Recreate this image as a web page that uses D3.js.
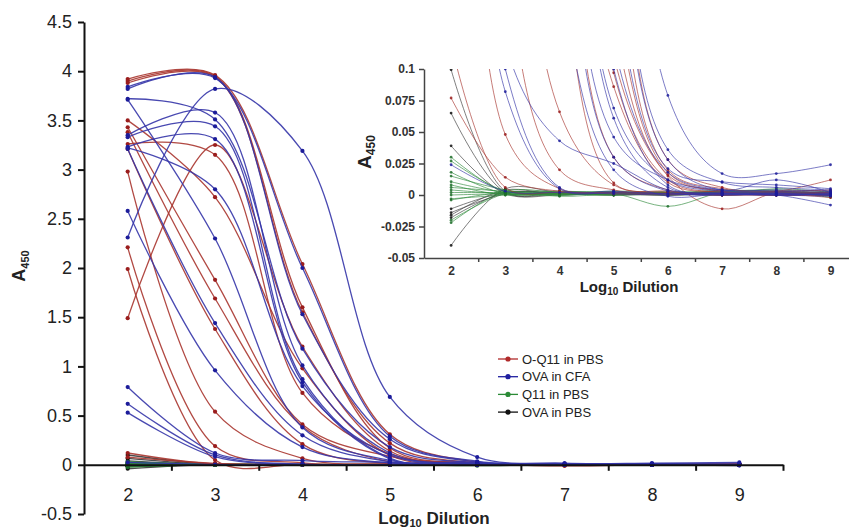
<!DOCTYPE html>
<html><head><meta charset="utf-8">
<script src="https://cdn.jsdelivr.net/npm/d3@7/dist/d3.min.js"></script>
<style>
body{margin:0;background:#fff}
svg{display:block;font-family:Arial,"Liberation Sans",sans-serif}
</style>
</head><body>
<svg id="chart" width="849" height="530"></svg>
<script>
// ---------------- DATA ----------------
const dilutions = [2, 3, 4, 5, 6, 7, 8, 9];
const seriesNames = ["O-Q11 in PBS", "OVA in CFA", "Q11 in PBS", "OVA in PBS"];

// O-Q11 in PBS (one row per animal, A450 at log10 dilution 2..9)
const oq11PBS = [
  [3.92, 3.96, 2.04, 0.31, 0.028, 0.006, 0.003, 0.004],
  [3.90, 3.95, 1.60, 0.17, 0.018, 0.003, 0.002, 0.002],
  [3.88, 3.94, 1.55, 0.22, 0.020, 0.005, 0.003, 0.012],
  [3.50, 2.72, 0.98, 0.097, 0.012, 0.002, 0.001, 0.001],
  [3.43, 1.88, 0.41, 0.086, 0.010, 0.002, 0.000, 0.000],
  [3.38, 1.69, 0.39, 0.030, 0.004, 0.001, 0.001, -0.002],
  [3.26, 3.15, 0.73, 0.11, 0.015, -0.011, 0.002, 0.003],
  [3.21, 1.38, 0.21, 0.0097, 0.003, 0.001, 0.000, 0.001],
  [2.98, 0.54, 0.066, 0.008, 0.002, 0.001, 0.000, 0.000],
  [2.21, 0.19, 0.020, 0.004, 0.001, 0.000, 0.000, 0.001],
  [1.99, 0.048, 0.005, 0.002, 0.001, 0.000, 0.001, 0.000],
  [1.49, 3.25, 1.20, 0.14, 0.016, 0.003, 0.001, 0.002],
  [0.12, 0.006, 0.002, 0.001, 0.000, 0.001, 0.000, 0.001],
  [0.077, 0.014, 0.003, 0.002, 0.001, 0.000, 0.001, 0.000]
];

// OVA in CFA
const ovaCFA = [
  [3.84, 3.93, 2.00, 0.29, 0.036, 0.010, 0.006, 0.004],
  [3.82, 3.94, 1.53, 0.26, 0.028, 0.004, 0.012, 0.002],
  [3.72, 3.51, 1.18, 0.18, 0.021, 0.0105, 0.008, 0.005],
  [3.71, 2.30, 0.38, 0.046, 0.012, 0.004, 0.003, 0.002],
  [3.35, 3.58, 1.01, 0.12, 0.018, 0.004, 0.004, 0.003],
  [3.33, 3.44, 0.87, 0.069, 0.012, 0.003, 0.002, 0.001],
  [3.23, 3.31, 0.84, 0.061, 0.006, 0.002, 0.001, 0.000],
  [3.22, 2.80, 0.80, 0.10, 0.008, 0.001, 0.000, -0.001],
  [3.21, 1.44, 0.30, 0.030, 0.003, 0.000, 0.001, 0.000],
  [2.58, 0.96, 0.18, 0.020, -0.001, 0.001, 0.000, -0.008],
  [2.31, 3.82, 3.19, 0.69, 0.079, 0.017, 0.017, 0.024],
  [0.79, 0.12, 0.043, 0.025, 0.004, 0.001, 0.000, 0.001],
  [0.62, 0.10, 0.006, 0.003, 0.001, 0.000, 0.001, 0.000],
  [0.53, 0.082, 0.005, 0.002, 0.001, 0.001, 0.000, 0.001],
  [0.024, 0.003, 0.002, 0.001, 0.000, 0.001, 0.001, 0.000]
];

// Q11 in PBS
const q11PBS = [
  [0.030, 0.002, 0.001, 0.002, 0.001, 0.003, 0.004, 0.001],
  [0.027, 0.003, 0.000, 0.001, -0.009, 0.002, 0.003, 0.000],
  [0.018, 0.001, 0.002, 0.000, 0.001, 0.004, 0.002, -0.001],
  [0.015, 0.004, -0.001, 0.001, 0.002, 0.001, 0.005, 0.002],
  [0.0105, 0.002, 0.001, 0.003, 0.000, 0.002, 0.001, 0.003],
  [0.008, 0.000, 0.002, 0.002, 0.001, 0.000, 0.002, 0.000],
  [0.006, 0.003, 0.001, 0.000, 0.002, 0.001, 0.000, 0.001],
  [0.004, 0.001, 0.000, 0.001, 0.000, 0.003, 0.001, 0.002],
  [0.002, 0.002, 0.003, 0.002, 0.001, 0.002, 0.003, -0.002],
  [0.000, 0.001, 0.001, 0.000, 0.003, 0.001, 0.002, 0.001],
  [-0.003, 0.000, 0.002, 0.001, 0.001, 0.000, 0.001, 0.000],
  [-0.004, 0.002, 0.000, 0.003, 0.002, 0.002, 0.000, 0.001],
  [-0.020, 0.001, 0.001, 0.002, 0.000, 0.001, 0.002, 0.000],
  [-0.022, 0.003, 0.002, 0.001, 0.001, 0.003, 0.001, 0.002]
];

// OVA in PBS
const ovaPBS = [
  [0.0995, 0.003, 0.001, 0.002, 0.001, 0.002, 0.001, 0.000],
  [0.065, 0.002, 0.002, 0.001, 0.000, 0.001, 0.002, 0.001],
  [0.039, 0.001, 0.000, 0.002, 0.001, 0.000, 0.001, 0.002],
  [-0.011, 0.002, 0.001, 0.000, 0.002, 0.001, 0.000, 0.001],
  [-0.014, 0.001, 0.003, 0.001, 0.000, 0.002, 0.001, 0.000],
  [-0.016, 0.004, 0.000, 0.002, 0.001, 0.001, 0.003, 0.001],
  [-0.018, 0.002, 0.001, 0.001, 0.002, 0.000, 0.001, 0.002],
  [-0.040, 0.005, 0.002, 0.000, 0.001, 0.002, 0.001, 0.000]
];

const mainYTicks = [-0.5, 0, 0.5, 1, 1.5, 2, 2.5, 3, 3.5, 4, 4.5];
const insetYTicks = [-0.05, -0.025, 0, 0.025, 0.05, 0.075, 0.1];
const xTickLabels = [2, 3, 4, 5, 6, 7, 8, 9];
const xMinorTicks = [2.5, 3.5, 4.5, 5.5, 6.5, 7.5, 8.5, 9.5];

// ---------------- STYLE ----------------
const groups = [
  {name: seriesNames[3], data: ovaPBS, line: "#3a3a3a", dot: "#111111", legend: "#111111"},
  {name: seriesNames[2], data: q11PBS, line: "#2f8a3c", dot: "#1e6e2a", legend: "#2a8a36"},
  {name: seriesNames[0], data: oq11PBS, line: "#a8352f", dot: "#9a1d1d", legend: "#b02a2a"},
  {name: seriesNames[1], data: ovaCFA, line: "#3535a8", dot: "#1c1c9a", legend: "#1f1fa0"}
];
const legendOrder = [2, 3, 1, 0];

const svg = d3.select("#chart");
const curve = d3.curveCatmullRom.alpha(0.5);

// ---------------- MAIN CHART ----------------
const x = d3.scaleLinear().domain([1.5, 9.5]).range([84, 783]);
const y = d3.scaleLinear().domain([-0.5, 4.5]).range([514, 22]);

const mainLine = d3.line().x((d, i) => x(dilutions[i])).y(d => y(d)).curve(curve);
const main = svg.append("g");
groups.forEach(g => {
  const gg = main.append("g");
  gg.selectAll("path").data(g.data).join("path")
    .attr("d", mainLine).attr("fill", "none")
    .attr("stroke", g.line).attr("stroke-width", 1.3).attr("stroke-opacity", 0.9);
  g.data.forEach(s => {
    gg.append("g").selectAll("circle").data(s).join("circle")
      .attr("cx", (d, i) => x(dilutions[i])).attr("cy", d => y(d))
      .attr("r", 2.1).attr("fill", g.dot);
  });
});

// main y axis
const gy = svg.append("g").attr("transform", "translate(84,0)")
  .call(d3.axisLeft(y).tickValues(mainYTicks).tickFormat(d => String(d))
    .tickSize(6).tickSizeOuter(0).tickPadding(6));
gy.select(".domain").attr("stroke", "#111").attr("stroke-width", 2);
gy.selectAll(".tick line").attr("stroke", "#111").attr("stroke-width", 2);
gy.selectAll("text").attr("font-size", 18).attr("fill", "#222");

// main x axis (through y = 0)
const gx = svg.append("g").attr("transform", `translate(0,${y(0)})`)
  .call(d3.axisBottom(x).tickValues(xMinorTicks).tickFormat("").tickSize(6).tickSizeOuter(0));
gx.select(".domain").attr("stroke", "#111").attr("stroke-width", 2);
gx.selectAll(".tick line").attr("stroke", "#111").attr("stroke-width", 2);
const gxl = svg.append("g").attr("transform", `translate(0,${y(0)})`)
  .call(d3.axisBottom(x).tickValues(xTickLabels).tickFormat(d => String(d)).tickSize(0).tickPadding(23));
gxl.select(".domain").remove();
gxl.selectAll("text").attr("font-size", 18).attr("fill", "#222");

// main titles
const xt = svg.append("text").attr("x", 434).attr("y", 524).attr("text-anchor", "middle")
  .attr("font-size", 17).attr("font-weight", "bold").attr("fill", "#222");
xt.append("tspan").text("Log");
xt.append("tspan").text("10").attr("font-size", 11).attr("dy", 3);
xt.append("tspan").text(" Dilution").attr("dy", -3);

const yt = svg.append("text").attr("transform", "translate(25,266) rotate(-90)")
  .attr("text-anchor", "middle").attr("font-size", 18).attr("font-weight", "bold").attr("fill", "#222");
yt.append("tspan").text("A");
yt.append("tspan").text("450").attr("font-size", 11).attr("dy", 4);

// legend
const lg = svg.append("g");
legendOrder.forEach((gi, k) => {
  const g = groups[gi];
  const yy = 359 + k * 17.7;
  lg.append("line").attr("x1", 498).attr("x2", 518).attr("y1", yy).attr("y2", yy)
    .attr("stroke", g.legend).attr("stroke-width", 1.3);
  lg.append("circle").attr("cx", 508).attr("cy", yy).attr("r", 2.6).attr("fill", g.legend);
  lg.append("text").attr("x", 522).attr("y", yy + 4.6).attr("font-size", 13)
    .attr("fill", "#222").text(g.name);
});

// ---------------- INSET ----------------
const xi = d3.scaleLinear().domain([1.5, 9.5]).range([424, 857.6]);
const yi = d3.scaleLinear().domain([-0.05, 0.1]).range([258, 69]);
svg.append("defs").append("clipPath").attr("id", "insetClip")
  .append("rect").attr("x", 424).attr("y", 69).attr("width", 440).attr("height", 189);

const insetLine = d3.line().x((d, i) => xi(dilutions[i])).y(d => yi(d)).curve(curve);
const inset = svg.append("g").attr("clip-path", "url(#insetClip)");
groups.forEach(g => {
  const gg = inset.append("g");
  gg.selectAll("path").data(g.data).join("path")
    .attr("d", insetLine).attr("fill", "none")
    .attr("stroke", g.line).attr("stroke-width", 1).attr("stroke-opacity", 0.65);
  g.data.forEach(s => {
    gg.append("g").selectAll("circle").data(s).join("circle")
      .attr("cx", (d, i) => xi(dilutions[i])).attr("cy", d => yi(d))
      .attr("r", 1.4).attr("fill", g.dot).attr("fill-opacity", 0.85);
  });
});

const giy = svg.append("g").attr("transform", "translate(424,0)")
  .call(d3.axisLeft(yi).tickValues(insetYTicks).tickFormat(d => String(d))
    .tickSize(5).tickSizeOuter(0).tickPadding(4));
giy.select(".domain").attr("stroke", "#444").attr("stroke-width", 1.5);
giy.selectAll(".tick line").attr("stroke", "#444").attr("stroke-width", 1.5);
giy.selectAll("text").attr("font-size", 12).attr("font-weight", "bold").attr("fill", "#333");

const gix = svg.append("g").attr("transform", "translate(0,258)")
  .call(d3.axisBottom(xi).tickValues(xMinorTicks).tickFormat("").tickSize(4).tickSizeOuter(0));
gix.select(".domain").attr("stroke", "#444").attr("stroke-width", 1.5);
gix.selectAll(".tick line").attr("stroke", "#444").attr("stroke-width", 1.5);
const gixl = svg.append("g").attr("transform", "translate(0,258)")
  .call(d3.axisBottom(xi).tickValues(xTickLabels).tickFormat(d => String(d)).tickSize(0).tickPadding(8));
gixl.select(".domain").remove();
gixl.selectAll("text").attr("font-size", 12).attr("font-weight", "bold").attr("fill", "#333");

const ixt = svg.append("text").attr("x", 629).attr("y", 292).attr("text-anchor", "middle")
  .attr("font-size", 15).attr("font-weight", "bold").attr("fill", "#222");
ixt.append("tspan").text("Log");
ixt.append("tspan").text("10").attr("font-size", 10).attr("dy", 3);
ixt.append("tspan").text(" Dilution").attr("dy", -3);

const iyt = svg.append("text").attr("transform", "translate(371,152) rotate(-90)")
  .attr("text-anchor", "middle").attr("font-size", 19).attr("font-weight", "bold").attr("fill", "#222");
iyt.append("tspan").text("A");
iyt.append("tspan").text("450").attr("font-size", 12).attr("dy", 4);
</script>
</body></html>
